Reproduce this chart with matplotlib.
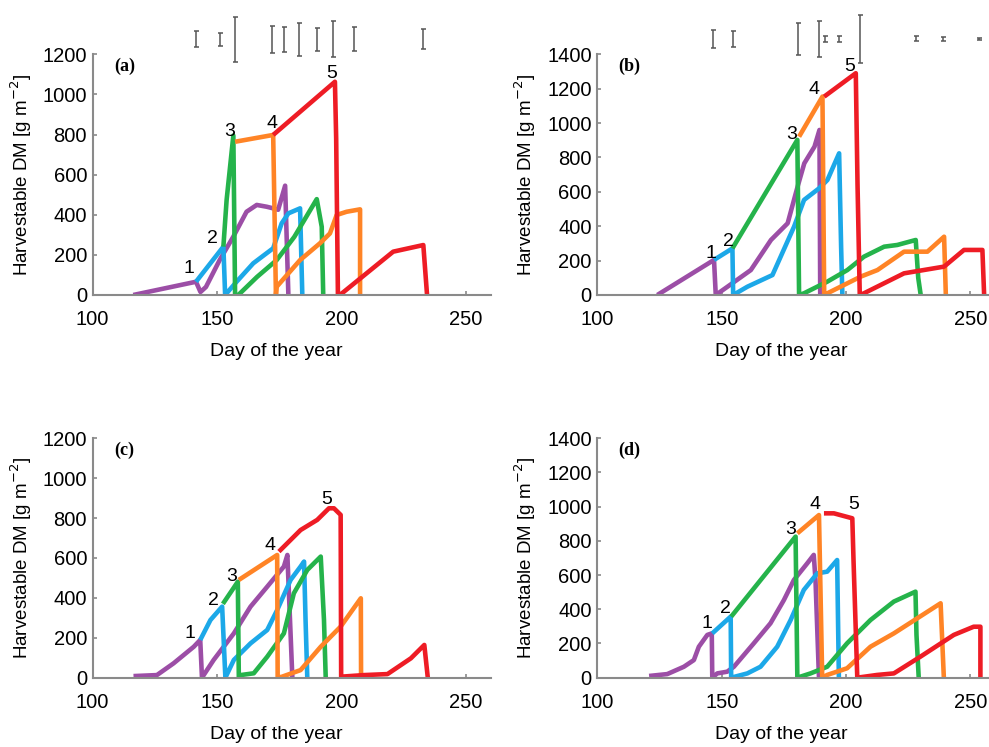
import matplotlib
matplotlib.use("Agg")
import matplotlib.pyplot as plt

plt.rcParams['font.family'] = ['Liberation Sans', 'DejaVu Sans']

# colours of the five harvest series
purple = '#9c4ea6'
blue = '#1ca8e8'
green = '#25b34b'
orange = '#ff8426'
red = '#ee1c25'

# ---- panel (a): (day of year, harvestable DM) ----
a_purple = ([116.3, 141.5, 143.3, 145.5, 151, 156.5, 161.8, 165.9, 169.9, 172.5, 174.5, 177.3, 178.6],
            [0, 66, 15, 40, 174, 291, 415, 449, 440, 432, 425, 545, 0])
a_blue = ([141.5, 152.5, 153.2, 157.8, 164.5, 172.5, 175.9, 178.6, 183.3, 184.2],
          [66, 241, 0, 66, 158, 233, 357, 407, 432, 0])
a_green = ([152.5, 153.8, 156.5, 157.2, 158.5, 166, 173.9, 181, 190, 192, 192.6],
           [241, 474, 795, 0, 0, 90, 174, 290, 478, 340, 0])
a_orange = ([157.2, 172.5, 173.6, 173.9, 183.3, 191.3, 195.3, 198, 202, 207.4, 207.4],
            [764, 798, 0, 41, 174, 258, 307, 399, 415, 427, 0])
a_red = ([172.5, 197.3, 197.8, 198.5, 199.3, 210, 220.7, 232.8, 234.3],
         [798, 1063, 780, 0, 0, 108, 216, 249, 0])
a_labels = ([138.7, 148.2, 155.2, 171.9, 196], [133, 283, 814, 856, 1105])
a_err_day = [141.5, 151, 157, 172, 177, 183, 190, 196.6, 205, 232.8]
a_err_half = [41, 32, 111, 66, 62, 83, 58, 90, 60, 50]

# ---- panel (b) ----
b_purple = ([124.1, 146.9, 147.6, 152.3, 161.7, 169.8, 176.5, 180.5, 183.2, 187.3, 189.3, 189.6],
            [0, 204, 0, 48, 145, 320, 417, 630, 766, 863, 960, 0])
b_blue = ([146.9, 154.3, 154.6, 160.3, 170.4, 179.1, 183.1, 189.2, 192.5, 197.2, 198, 198.5],
          [204, 271, 0, 48, 116, 398, 553, 621, 669, 824, 280, 0])
b_green = ([154.3, 180.4, 181.1, 183.1, 192.5, 200.5, 207.2, 215.3, 220.6, 228, 229, 230],
           [271, 902, 0, 10, 78, 145, 223, 281, 291, 320, 100, 0])
b_orange = ([181.1, 190.5, 191.2, 192.5, 205.9, 212.6, 223.3, 232.7, 239.4, 240.1],
            [921, 1154, 0, 10, 107, 145, 252, 252, 339, 0])
b_red = ([191.2, 203.9, 204.6, 205.5, 207.2, 223.3, 239.4, 247.4, 254.8, 255.5],
         [1154, 1290, 640, 0, 10, 126, 165, 262, 262, 0])
b_labels = ([145.7, 152.6, 178.1, 187.2, 201.6], [242, 310, 931, 1193, 1328])
b_err_day = [146.6, 154.4, 180.7, 189.1, 191.5, 197.2, 205.5, 228.3, 239, 253.5]
b_err_half = [51, 45, 92, 104, 19, 19, 139, 15, 10, 6]

# ---- panel (c) ----
c_purple = ([116.4, 125.8, 132.5, 140.6, 143.2, 143.9, 148.6, 156.7, 163.4, 170.1, 176.8, 178.2, 180.2],
            [8, 13, 72, 155, 189, 0, 89, 222, 356, 456, 557, 615, 0])
c_blue = ([143.2, 147.3, 152, 153.3, 156.7, 163.4, 170.1, 174.1, 179.5, 183.5, 184.9, 185.5, 186.2],
          [189, 289, 356, 0, 89, 172, 239, 339, 490, 557, 582, 290, 0])
c_green = ([152.3, 158.3, 158.7, 159.4, 164.7, 170.1, 176.8, 180.8, 186.2, 191.6, 192.9, 193.6],
           [370, 481, 0, 13, 22, 105, 222, 423, 540, 607, 290, 0])
c_orange = ([158.7, 174.1, 174.3, 176.1, 183.5, 191.6, 199.6, 207.7, 207.8],
            [490, 615, 0, 5, 38, 155, 256, 398, 0])
c_red = ([174.8, 183.5, 190.2, 194.9, 196.9, 199.6, 199.8, 209, 218.4, 227.8, 233.2, 234.6],
         [632, 740, 791, 849, 849, 816, 5, 13, 18, 97, 164, 0])
c_labels = ([138.9, 148.6, 156, 171.2, 194], [219, 389, 506, 665, 891])

# ---- panel (d) ----
d_purple = ([120.8, 128.1, 134.8, 138.8, 140.8, 144.2, 146, 146.2, 148.2, 152.2, 154.9, 162.9,
             169.6, 175, 179, 184.4, 187, 187.7, 189.1],
            [10, 21, 64, 103, 181, 250, 259, 0, 25, 35, 64, 201, 318, 454, 571, 669, 718, 571, 0])
d_blue = ([146.2, 153.6, 153.8, 160.3, 165.6, 172.3, 177.7, 183, 188.4, 192.4, 196.4, 197.1],
          [259, 357, 0, 25, 64, 181, 337, 513, 610, 620, 688, 0])
d_green = ([153.8, 179.7, 180.4, 185.7, 192.4, 200.4, 209.8, 219.2, 227.9, 228.3, 229.2],
           [357, 825, 0, 25, 64, 201, 337, 445, 503, 250, 0])
d_orange = ([180.4, 189.1, 190.4, 192.4, 200.4, 209.8, 219.2, 228.6, 238, 239.3],
            [844, 951, 0, 16, 55, 181, 259, 347, 435, 0])
d_red = ([191.1, 195.1, 202.5, 203, 204.5, 212.5, 219.2, 229.9, 243.3, 251.3, 254, 254],
         [961, 961, 932, 680, 0, 16, 25, 123, 250, 298, 298, 0])
d_labels = ([144.2, 151.6, 177.7, 187.7, 202.9], [318, 406, 864, 1010, 1010])

harvest_names = ['1', '2', '3', '4', '5']


def draw_panel(ax, series, labels, tag, ymax):
    """
    Draws one panel of harvestable DM curves
    :return: None
    """
    for (days, dm), col in zip(series, [purple, blue, green, orange, red]):
        ax.plot(days, dm, color=col, lw=3.3, solid_joinstyle='round', solid_capstyle='butt')
    for x, y, name in zip(labels[0], labels[1], harvest_names):
        ax.text(x, y, name, fontsize=14, ha='center', va='center')
    ax.text(0.08, 0.95, tag, transform=ax.transAxes, fontsize=13, fontweight='bold',
            family='Liberation Serif', ha='center', va='center')
    ax.set_xlim(100, 260)
    ax.set_ylim(0, ymax)
    ax.set_xticks([100, 150, 200, 250])
    ax.set_yticks(range(0, ymax + 1, 200))
    for side in ['top', 'right']:
        ax.spines[side].set_visible(False)
    for side in ['left', 'bottom']:
        ax.spines[side].set_color('#8a8a8a')
        ax.spines[side].set_linewidth(1.5)
    ax.tick_params(axis='both', direction='in', length=3, width=1.2, color='#8a8a8a', labelsize=14.5)
    ax.tick_params(axis='x', pad=11)
    ax.tick_params(axis='y', pad=4)
    ax.set_xlabel('Day of the year', fontsize=14)
    ax.xaxis.set_label_coords(0.462, -0.2)
    ax.set_ylabel('Harvestable DM [g m$^{-2}$]', fontsize=13.5)
    # ylabel anchor is the right side of the rotated text
    ax.yaxis.set_label_coords(-0.148, 0.5)


def draw_err(ax, days, half, centre):
    """
    Draws the standard error bars above a panel
    :return: None
    """
    eb = ax.errorbar(days, [centre] * len(days), yerr=half, fmt='none', ecolor='#555555',
                     elinewidth=1.1, capsize=1.8, capthick=1.1)
    for art in eb.lines[1] + eb.lines[2]:
        art.set_clip_on(False)


fig = plt.figure(figsize=[9.89, 7.47], dpi=100)
ax_a = fig.add_axes([0.0937, 0.6051, 0.4028, 0.3222])
ax_b = fig.add_axes([0.6040, 0.6051, 0.4024, 0.3222])
ax_c = fig.add_axes([0.0937, 0.0928, 0.4028, 0.3205])
ax_d = fig.add_axes([0.6040, 0.0928, 0.4024, 0.3205])

draw_panel(ax_a, [a_purple, a_blue, a_green, a_orange, a_red], a_labels, '(a)', 1200)
draw_panel(ax_b, [b_purple, b_blue, b_green, b_orange, b_red], b_labels, '(b)', 1400)
draw_panel(ax_c, [c_purple, c_blue, c_green, c_orange, c_red], c_labels, '(c)', 1200)
draw_panel(ax_d, [d_purple, d_blue, d_green, d_orange, d_red], d_labels, '(d)', 1400)

draw_err(ax_a, a_err_day, a_err_half, 1275)
draw_err(ax_b, b_err_day, b_err_half, 1490)

fig.savefig('out.png', dpi=100)
